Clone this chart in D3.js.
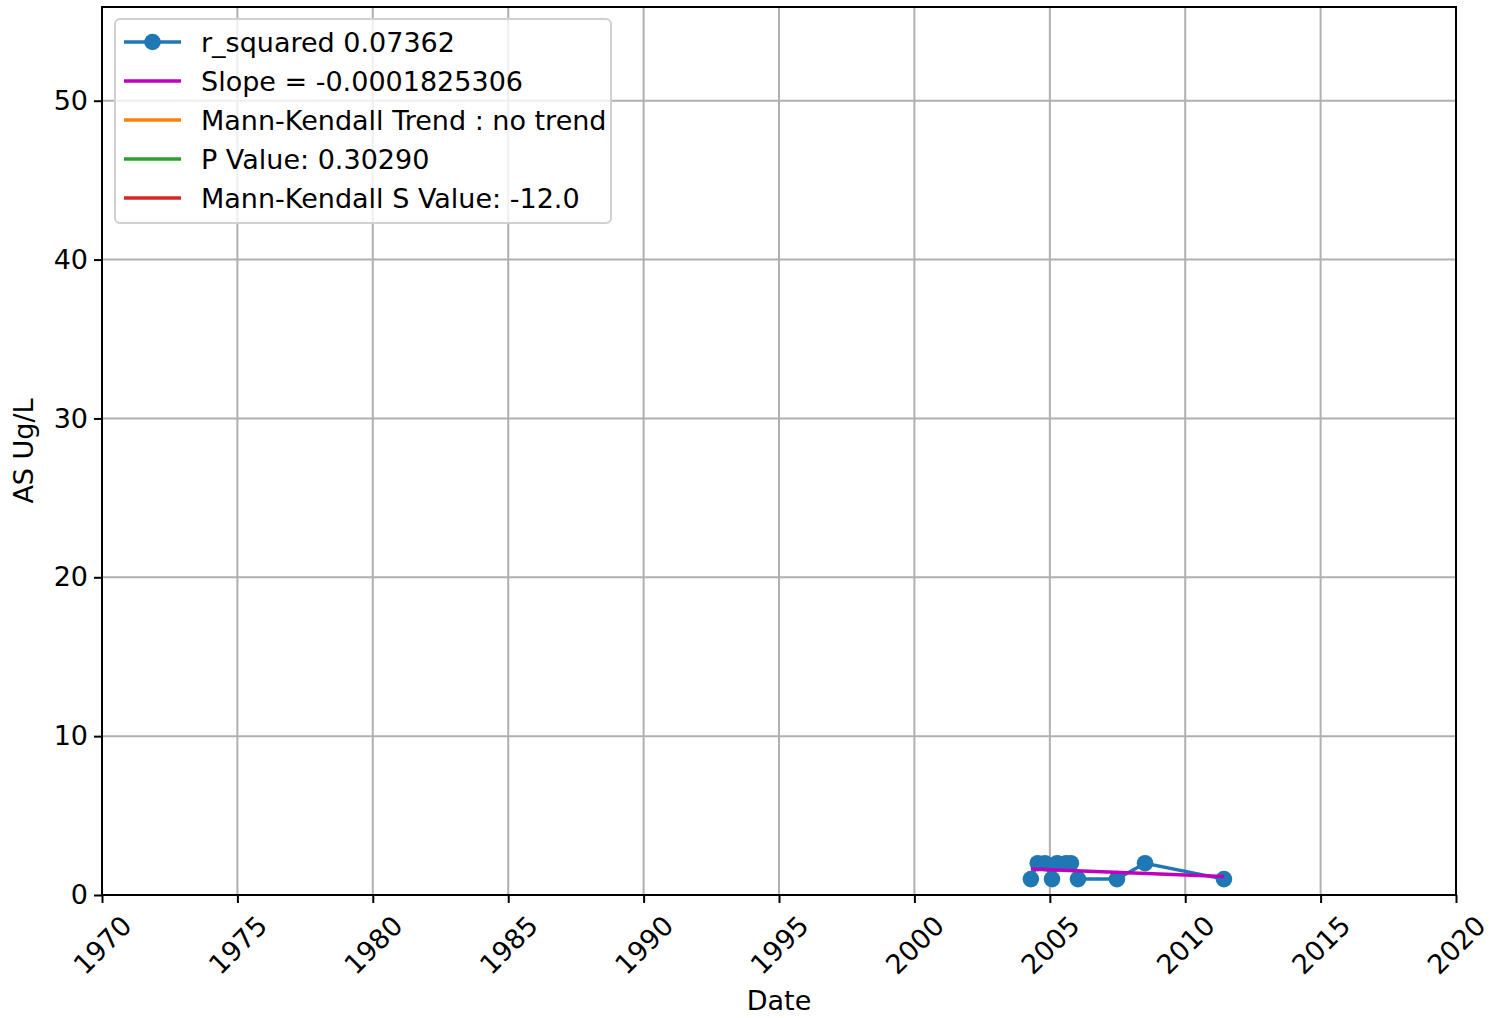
<!DOCTYPE html>
<html><head><meta charset="utf-8">
<script src="https://cdn.jsdelivr.net/npm/d3@7"></script>
<style>body{margin:0;background:#fff}svg{display:block}text{font-family:"DejaVu Sans",sans-serif}</style>
</head><body><svg id="c" width="1492" height="1018"></svg>
<script>
const dates = ["2004-04-20","2004-07-22","2004-10-27","2005-01-30","2005-04-10","2005-08-08","2005-10-12","2006-01-15","2007-06-25","2008-07-08","2011-06-07"];
const values = [1,2,2,1,2,2,2,1,1,2,1];
const trendValues = [1.64,1.16];
const xTickYears = [1970,1975,1980,1985,1990,1995,2000,2005,2010,2015,2020];
const yTicks = [0,10,20,30,40,50];
const legendLabels = ["r_squared 0.07362","Slope = -0.0001825306","Mann-Kendall Trend : no trend","P Value: 0.30290","Mann-Kendall S Value: -12.0"];
const legendColors = ["#1f77b4","#bf00bf","#ff7f0e","#2ca02c","#d62728"];

const svg = d3.select("#c");
const L=102,R=1456,T=7,B=895;
const parse = d3.timeParse("%Y-%m-%d");
const x = d3.scaleTime().domain([new Date(1970,0,1), new Date(2020,0,1)]).range([L,R]);
const y = d3.scaleLinear().domain([0,55.9]).range([B,T]);
const fs = 27;

// grid
svg.append("g").selectAll("line").data(xTickYears).join("line")
  .attr("x1",d=>x(new Date(d,0,1))).attr("x2",d=>x(new Date(d,0,1))).attr("y1",T).attr("y2",B)
  .attr("stroke","#b0b0b0").attr("stroke-width",2);
svg.append("g").selectAll("line").data(yTicks).join("line")
  .attr("x1",L).attr("x2",R).attr("y1",d=>y(d)).attr("y2",d=>y(d))
  .attr("stroke","#b0b0b0").attr("stroke-width",2);

// data
const pts = dates.map((d,i)=>({t:parse(d),v:values[i]}));
svg.append("path").datum(pts).attr("fill","none").attr("stroke","#1f77b4").attr("stroke-width",3.5)
  .attr("d",d3.line().x(d=>x(d.t)).y(d=>y(d.v)));
svg.append("g").selectAll("circle").data(pts).join("circle")
  .attr("cx",d=>x(d.t)).attr("cy",d=>y(d.v)).attr("r",8.3).attr("fill","#1f77b4");
const tr = [{t:pts[0].t,v:trendValues[0]},{t:pts[pts.length-1].t,v:trendValues[1]}];
svg.append("path").datum(tr).attr("fill","none").attr("stroke","#bf00bf").attr("stroke-width",3.5)
  .attr("d",d3.line().x(d=>x(d.t)).y(d=>y(d.v)));

// axes
const xa = svg.append("g").attr("transform",`translate(0,${B})`)
  .call(d3.axisBottom(x).tickValues(xTickYears.map(d=>new Date(d,0,1))).tickSize(8).tickFormat(d3.timeFormat("%Y")));
xa.select(".domain").remove();
xa.selectAll(".tick line").attr("stroke","#000").attr("stroke-width",2);
xa.selectAll(".tick text").attr("font-size",fs).attr("fill","#000")
  .attr("text-anchor","middle").attr("dy",null).attr("y",null)
  .attr("dominant-baseline","central")
  .attr("transform","translate(0,50) rotate(-45)");
const ya = svg.append("g").attr("transform",`translate(${L},0)`)
  .call(d3.axisLeft(y).tickValues(yTicks).tickSize(8));
ya.select(".domain").remove();
ya.selectAll(".tick line").attr("stroke","#000").attr("stroke-width",2);
ya.selectAll(".tick text").attr("font-size",fs).attr("fill","#000").attr("x",-14);

svg.append("rect").attr("x",L).attr("y",T).attr("width",R-L).attr("height",B-T)
  .attr("fill","none").attr("stroke","#000").attr("stroke-width",2);

svg.append("text").attr("x",(L+R)/2).attr("y",1010).attr("text-anchor","middle").attr("font-size",fs).text("Date");
svg.append("text").attr("transform",`translate(33,${(T+B)/2}) rotate(-90)`).attr("text-anchor","middle").attr("font-size",fs).text("AS Ug/L");

// legend
const lg = svg.append("g");
lg.append("rect").attr("x",115).attr("y",19).attr("width",496).attr("height",204).attr("rx",5)
  .attr("fill","#fff").attr("fill-opacity",0.8).attr("stroke","#d0d0d0").attr("stroke-width",2);
legendLabels.forEach((lab,i)=>{
  const yy = 42 + i*39;
  lg.append("line").attr("x1",124).attr("x2",181).attr("y1",yy).attr("y2",yy)
    .attr("stroke",legendColors[i]).attr("stroke-width",3.5);
  if(i===0) lg.append("circle").attr("cx",152.5).attr("cy",yy).attr("r",8.3).attr("fill",legendColors[i]);
  lg.append("text").attr("x",201).attr("y",yy).attr("dominant-baseline","central").attr("font-size",fs).text(lab);
});
</script></body></html>
